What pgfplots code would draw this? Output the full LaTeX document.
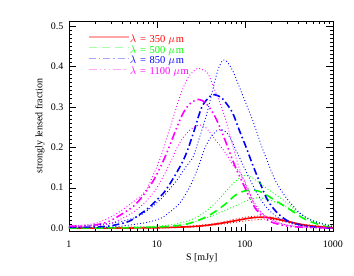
\documentclass[border=0pt]{standalone}
\usepackage{pgfplots}
\pgfplotsset{compat=1.18}
\usepackage{fontspec}
\setmainfont{Liberation Serif}
\definecolor{cR}{RGB}{255,0,0}
\definecolor{cG}{RGB}{0,255,0}
\definecolor{cB}{RGB}{0,0,255}
\definecolor{cM}{RGB}{255,0,255}
\newcommand{\lam}[1]{$\lambda$\hspace{4pt}=\hspace{3.5pt}#1\hspace{3pt}$\mu$\hspace{0.8pt}m}
\begin{document}
\begin{tikzpicture}[x=1pt,y=1pt]
\begin{axis}[
  at={(0,0)}, anchor=south west,
  scale only axis, width=264pt, height=210pt,
  xmode=log, xmin=1, xmax=1000,
  ymin=-0.007, ymax=0.512,
  xtick={1,10,100,1000}, xticklabels={1,10,100,1000},
  ytick={0,0.1,0.2,0.3,0.4,0.5},
  yticklabel style={/pgf/number format/fixed, /pgf/number format/fixed zerofill, /pgf/number format/precision=1, xshift=-2pt},
  minor y tick num=9,
  tick align=inside, xtick pos=both, ytick pos=both,
  xticklabel pos=bottom, yticklabel pos=left,
  major tick length=7pt, minor tick length=3.5pt,
  every tick/.style={black, line width=0.4pt},
  /pgf/number format/assume math mode=true,
  tick label style={font=\fontsize{10}{12}\selectfont},
  xticklabel style={yshift=-6pt},
  xlabel={S [mJy]}, ylabel={strongly lensed fraction},
  label style={font=\fontsize{10}{12}\selectfont},
  xlabel style={at={(axis description cs:0.503,-0.13)}, anchor=center},
  ylabel style={at={(axis description cs:-0.11,0.5)}, anchor=center},
  axis line style={line width=0.5pt},
  legend cell align=left,
  legend style={at={(0.06,0.945)}, anchor=north west, draw=none, fill=none,
    font=\fontsize{10.5}{10}\selectfont, row sep=1pt,
    nodes={inner sep=0.6pt, text height=7pt, text depth=1.5pt},
    /tikz/every even column/.append style={column sep=4pt}},
  legend image code/.code={\draw[#1, opacity=0.35, line width=1.2pt] (0pt,2.5pt) -- (40pt,2.5pt);},
  dotS/.style={line width=0.9pt, dash pattern=on 0.9pt off 2.2pt, smooth, tension=0.5},
]
% ---------- red 350 um ----------
\addplot[cR, line width=1.6pt, smooth, tension=0.5] coordinates {
(1,0.0) (5,0.0005) (10,0.001) (20,0.003) (30,0.005) (43,0.009) (60,0.014) (80,0.019) (100,0.023) (125,0.026) (155,0.027) (200,0.025) (300,0.017) (500,0.007) (1000,0.001)};
\addlegendentry{\textcolor{cR}{\lam{350}}}
% ---------- green 500 um ----------
\addplot[cG, line width=1.6pt, dash pattern=on 8pt off 5pt, smooth, tension=0.5] coordinates {
(1,0.0) (5,0.001) (10,0.003) (15,0.005) (21.5,0.01) (30,0.02) (43,0.037) (61,0.061) (76,0.08) (90,0.089) (105,0.093) (125,0.094) (150,0.09) (175,0.082) (235,0.065) (330,0.045) (500,0.02) (830,0.004) (1000,0.002)};
\addlegendentry{\textcolor{cG}{\lam{500}}}
% ---------- blue 850 um ----------
\addplot[cB, line width=1.6pt, dash pattern=on 7pt off 3pt on 1.5pt off 3pt, smooth, tension=0.5] coordinates {
(1,0.002) (2,0.003) (3,0.006) (4.7,0.016) (6,0.03) (7.9,0.049) (10,0.07) (12.2,0.09) (15,0.12) (18.9,0.158) (22,0.19) (26.8,0.245) (30,0.28) (33.3,0.305) (39.7,0.325) (45,0.33) (53.6,0.323) (63,0.305) (73,0.283) (86.5,0.241) (103,0.2) (123,0.155) (152,0.106) (182,0.068) (235,0.037) (320,0.016) (540,0.004) (1000,0.0)};
\addlegendentry{\textcolor{cB}{\lam{850}}}
% ---------- magenta 1100 um ----------
\addplot[cM, line width=1.6pt, dash pattern=on 8pt off 3pt on 1.5pt off 3pt on 1.5pt off 3pt on 1.5pt off 3pt, smooth, tension=0.5] coordinates {
(1,0.005) (1.5,0.005) (2,0.008) (2.8,0.016) (4,0.035) (5.6,0.057) (7.5,0.09) (9.4,0.123) (12,0.17) (14.6,0.215) (17,0.252) (19.8,0.284) (23,0.305) (27,0.316) (30,0.318) (33,0.315) (38,0.303) (45,0.278) (51,0.253) (60,0.215) (70,0.176) (80,0.145) (100,0.1) (115,0.072) (130,0.05) (160,0.028) (200,0.015) (300,0.005) (500,0.002) (1000,0.0)};
\addlegendentry{\textcolor{cM}{\lam{1100}}}
% ---------- dotted bounds ----------
\addplot[cR, dotS, forget plot] coordinates {
(1,0.0) (10,0.0015) (20,0.004) (30,0.007) (43,0.011) (60,0.017) (80,0.023) (100,0.027) (140,0.030) (180,0.029) (250,0.023) (400,0.011) (1000,0.002)};
\addplot[cR, dotS, forget plot] coordinates {
(1,0.0) (10,0.0007) (20,0.002) (30,0.004) (43,0.007) (60,0.011) (80,0.015) (110,0.019) (160,0.022) (220,0.021) (300,0.015) (500,0.006) (1000,0.001)};
\addplot[cG, dotS, forget plot] coordinates {
(1,0.0) (10,0.005) (20,0.015) (30,0.03) (45,0.06) (60,0.09) (80,0.118) (99,0.13) (120,0.125) (150,0.11) (200,0.09) (270,0.07) (400,0.04) (600,0.017) (1000,0.005)};
\addplot[cG, dotS, forget plot] coordinates {
(1,0.0) (10,0.002) (20,0.008) (36,0.025) (67,0.049) (100,0.066) (123,0.073) (150,0.075) (200,0.068) (320,0.049) (580,0.02) (1000,0.005)};
\addplot[cB, dotS, forget plot] coordinates {
(1,0.003) (2,0.008) (3,0.012) (4,0.017) (6.1,0.029) (8.5,0.05) (11.2,0.073) (14,0.097) (17.3,0.122) (21,0.15) (25.6,0.175) (29.2,0.212) (36.3,0.278) (45,0.36) (50,0.395) (56,0.415) (62,0.412) (73,0.388) (94.7,0.327) (123,0.265) (153,0.205) (180,0.165) (226,0.114) (320,0.065) (500,0.025) (1000,0.003)};
\addplot[cB, dotS, forget plot] coordinates {
(1,0.001) (3,0.003) (5,0.008) (8,0.015) (11.2,0.025) (14,0.04) (17.3,0.057) (20,0.075) (24.6,0.11) (30.5,0.16) (34.7,0.196) (39.7,0.22) (47,0.24) (55,0.243) (65,0.23) (80,0.19) (103,0.14) (134,0.09) (170,0.055) (230,0.028) (350,0.01) (600,0.003) (1000,0.0)};
\addplot[cM, dotS, forget plot] coordinates {
(1,0.005) (2,0.012) (3.3,0.033) (5,0.06) (7.3,0.09) (9,0.13) (11.2,0.18) (14.6,0.26) (18.9,0.335) (23,0.375) (29,0.395) (34,0.39) (38,0.382) (45,0.343) (56,0.29) (67,0.233) (83,0.159) (100,0.11) (130,0.06) (170,0.03) (250,0.012) (400,0.004) (1000,0.0)};
\addplot[cM, dotS, forget plot] coordinates {
(1,0.003) (2,0.006) (3,0.012) (5,0.035) (7,0.06) (10,0.1) (14,0.16) (18,0.21) (23,0.24) (30,0.255) (36,0.248) (47,0.216) (61,0.184) (75,0.152) (86.5,0.14) (100,0.115) (112,0.09) (134,0.05) (175,0.028) (250,0.012) (400,0.004) (1000,0.0)};
\end{axis}
\path[use as bounding box] (-69pt,-44.3pt) rectangle (285pt,231pt);
\end{tikzpicture}
\end{document}
